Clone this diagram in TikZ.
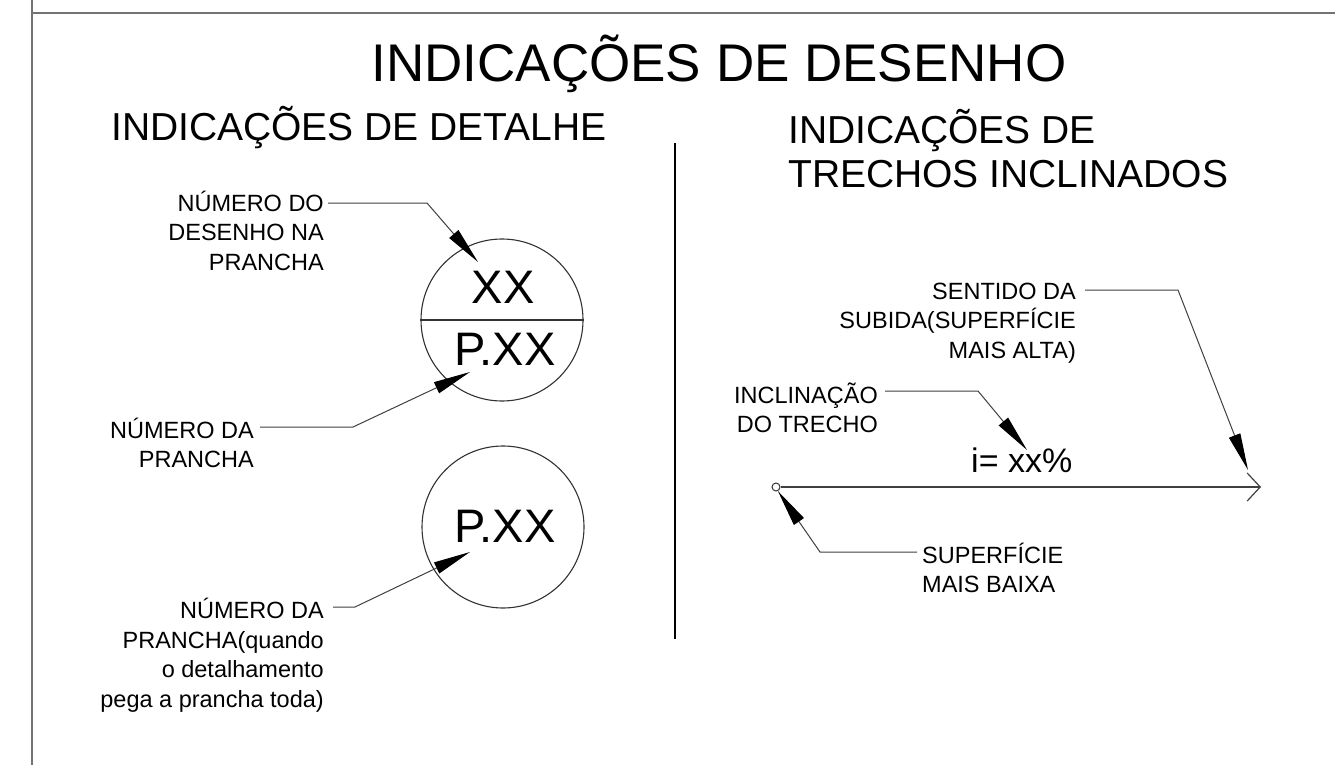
\documentclass[tikz,border=0pt]{standalone}
\usepackage{fontspec}
\setmainfont{Liberation Sans}
\usetikzlibrary{arrows.meta}

\begin{document}
\begin{tikzpicture}[x=1pt,y=-1pt,>={Triangle[length=37pt,width=12pt,color=black]},
                    line join=miter]

  \tikzstyle{head}=[inner sep=0pt,font=\fontsize{39}{44}\selectfont]
  \tikzstyle{note}=[inner sep=0pt,align=right,font=\fontsize{23.5}{29.5}\selectfont]
  \tikzstyle{big}=[inner sep=0pt,font=\fontsize{47}{50}\selectfont]
  \tikzstyle{bubble}=[circle,draw=black!80,line width=1.1pt,minimum size=162pt,inner sep=0pt]
  \tikzstyle{ring}=[draw=black!80,line width=1.1pt]
  \tikzstyle{lead}=[draw=black!75,line width=1pt]
  \tikzstyle{frame}=[draw=black!55,line width=1.6pt]

  \fill[white] (0,0) rectangle (1335,765);
  \useasboundingbox (0,0) rectangle (1335,765);
  \draw[frame] (32,0) -- (32,765);
  \draw[frame] (32,13) -- (1335,13);
  \draw[line width=1.3pt] (675,143) -- (675,639);

  % base anchors of the multi-line nodes sit on their last line
  \node[head,font=\fontsize{53}{60}\selectfont,anchor=base] (title) at (719,82) {INDICAÇÕES DE DESENHO};
  \node[head,anchor=base west]            (detalhe) at (111,140) {INDICAÇÕES DE DETALHE};
  \node[head,anchor=base west,align=left] (trechos) at (788,187) {INDICAÇÕES DE\\TRECHOS INCLINADOS};

  % detail marks
  \node[bubble] (detA) at (502,320) {};
  \draw[ring] (detA.west) -- (detA.east);
  \node[big,anchor=base] (desXX) at (503,303) {XX};
  \node[big,anchor=base] (prXX)  at (505,365) {P.XX};

  \node[bubble] (detB) at (503,527) {};
  \node[big,anchor=base] (prXXb) at (505,542) {P.XX};

  \node[note,anchor=base east] (numDes)  at (324,270)   {NÚMERO DO\\DESENHO NA\\PRANCHA};
  \node[note,anchor=base east] (numPr)   at (254,467.5) {NÚMERO DA\\PRANCHA};
  \node[note,anchor=base east] (numTodo) at (324,707)   {NÚMERO DA\\PRANCHA(quando\\o detalhamento\\pega a prancha toda)};

  \coordinate (tipDes)  at (478,262);
  \coordinate (tipPr)   at (470,372);
  \coordinate (tipTodo) at (470,552);

  \draw[lead,->] ([xshift=4pt,yshift=67pt]numDes.base east)    -- ++(99,0) -- (tipDes);
  \draw[lead,->] ([xshift=6pt,yshift=40.5pt]numPr.base east)   -- ++(93,0)  -- (tipPr);
  \draw[lead,->] ([xshift=9pt,yshift=100pt]numTodo.base east)  -- ++(22,0)  -- (tipTodo);

  % ramp marks
  \node[circle,draw=black!80,fill=white,line width=1pt,minimum size=8pt,inner sep=0pt] (low) at (776,487) {};
  \coordinate (high) at (1261,487);
  \draw[draw=black!75,line width=1.2pt,-{Straight Barb[length=13pt,width=28pt]}] (low) -- (high);

  \node[inner sep=0pt,font=\fontsize{34}{40}\selectfont,anchor=base west] (slope) at (971,472) {i= xx\%};

  \node[note,anchor=base east]            (sentido) at (1076,358)   {SENTIDO DA\\SUBIDA(SUPERFÍCIE\\MAIS ALTA)};
  \node[note,anchor=base east]            (inclin)  at (878,432.5)  {INCLINAÇÃO\\DO TRECHO};
  \node[note,anchor=base west,align=left] (superf)  at (922,592.5)  {SUPERFÍCIE\\MAIS BAIXA};

  \coordinate (tipSub) at (1248,470);
  \coordinate (tipInc) at (1027,450);

  \draw[lead,->] ([xshift=9pt,yshift=68pt]sentido.base east)    -- ++(93,0)  -- (tipSub);
  \draw[lead,->] ([xshift=7pt,yshift=41.5pt]inclin.base east)   -- ++(93,0)  -- (tipInc);
  \draw[lead,->] ([xshift=-5pt,yshift=40.5pt]superf.base west)  -- ++(-97,0) -- (low.-65);
\end{tikzpicture}
\end{document}
